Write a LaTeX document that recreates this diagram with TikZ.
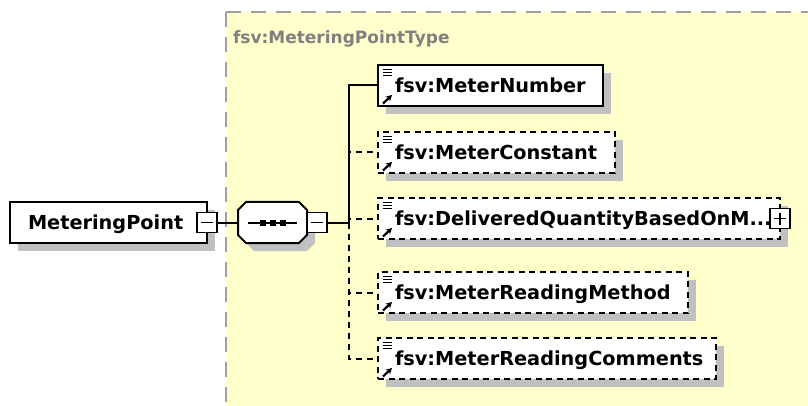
\documentclass[tikz,border=0pt]{standalone}
\usepackage{fontspec}
\setmainfont{DejaVu Sans}
\usetikzlibrary{arrows.meta,shadows,calc}
\definecolor{ybg}{RGB}{255,255,204}
\definecolor{shd}{RGB}{192,192,192}
\definecolor{bord}{RGB}{160,160,160}
\definecolor{ttl}{RGB}{128,128,128}
\newcommand\elicons[1]{%
  \foreach \dy in {4.5,7.5,10.5}{\draw[line width=1.3pt] ($(#1.north west)+(5,\dy)$) -- +(9,0);}
  \draw[line width=2.2pt,-{Stealth[length=6pt,width=6.5pt]}] ($(#1.south west)+(5,-2.5)$) -- ($(#1.south west)+(14,-11)$);
}
\begin{document}
\begin{tikzpicture}[x=1pt,y=-1pt,
  every node/.style={inner sep=0pt,outer sep=0pt},
  shd8/.style={drop shadow={shadow xshift=8pt,shadow yshift=-8pt,fill=shd,opacity=1}},
  box/.style={draw=black,line width=2pt,fill=white,rectangle,anchor=north west,minimum height=41pt,shd8},
  optbox/.style={box,dash pattern=on 6pt off 4.5pt},
  lbl/.style={anchor=base west,font=\fontsize{19.3}{20}\selectfont\bfseries},
  mbox/.style={draw=black,line width=1.7pt,fill=white,rectangle,minimum width=20pt,minimum height=20pt},
  conn/.style={line width=2pt},
  oconn/.style={conn,dash pattern=on 6pt off 5pt}
]
\useasboundingbox (0,0) rectangle (808,406);
\fill[white] (0,0) rectangle (808,406);
% type region
\fill[ybg] (226,12) rectangle (808,406);
\draw[bord,line width=2.2pt,dash pattern=on 15pt off 10pt] (226,12) -- (808,12);
\draw[bord,line width=2.2pt,dash pattern=on 15pt off 10pt] (226,12) -- (226,406);
\node[anchor=base west,text=ttl,font=\fontsize{17}{18}\selectfont\bfseries] (ttl) at (233,44) {fsv:MeteringPointType};

% root element
\node[box,minimum width=197pt] (mp) at (10,202) {};
\node[lbl] (mpt) at ($(mp.west)+(18,7)$) {MeteringPoint};
\node[mbox] (mpm) at (207,222.5) {};
\draw[line width=1.7pt] ($(mpm.west)+(4,0)$) -- ($(mpm.east)+(-4,0)$);

% sequence compositor
\node[minimum width=69pt,minimum height=41pt] (seq) at (272.5,222.5) {};
\draw[line width=2pt,fill=white,shd8] (246,202) -- (299,202) -- (307,210) -- (307,235) -- (299,243) -- (246,243) -- (238,235) -- (238,210) -- cycle;
\draw[line width=2pt] (248,222.5) -- (297,222.5);
\foreach \cx in {262.5,272.5,282.5}{\fill (\cx-3,219.5) rectangle (\cx+3,225.5);}
\node[mbox] (sqm) at (317,222.5) {};
\draw[line width=1.7pt] ($(sqm.west)+(4,0)$) -- ($(sqm.east)+(-4,0)$);
\coordinate (j) at (349,222.5);

% children
\node[box,minimum width=225pt] (c1) at (378,65) {};
\node[optbox,minimum width=237pt] (c2) at (378,132) {};
\node[optbox,minimum width=402pt] (c3) at (378,198) {};
\node[optbox,minimum width=310pt] (c4) at (378,272) {};
\node[optbox,minimum width=338pt] (c5) at (378,338) {};
\node[lbl] (t1) at ($(c1.west)+(17,7)$) {fsv:MeterNumber};
\node[lbl] (t2) at ($(c2.west)+(17,7)$) {fsv:MeterConstant};
\node[lbl] (t3) at ($(c3.west)+(17,7)$) {fsv:DeliveredQuantityBasedOnM...};
\node[lbl] (t4) at ($(c4.west)+(17,7)$) {fsv:MeterReadingMethod};
\node[lbl] (t5) at ($(c5.west)+(17,7)$) {fsv:MeterReadingComments};
\elicons{c1}\elicons{c2}\elicons{c3}\elicons{c4}\elicons{c5}
\node[mbox] (c3p) at (c3.east) {};
\draw[line width=1.7pt] ($(c3p.west)+(4,0)$) -- ($(c3p.east)+(-4,0)$);
\draw[line width=1.7pt] ($(c3p.north)+(0,4)$) -- ($(c3p.south)+(0,-4)$);

% connectors
\draw[conn] (mpm.east) -- (seq.west);
\draw[conn] (sqm.east) -- (j);
\draw[oconn] (j) |- (c2.west);
\draw[oconn] (j) |- (c3.west);
\draw[oconn] (j) |- (c4.west);
\draw[oconn] (j) |- (c5.west);
\draw[conn] (j) |- (c1.west);
\end{tikzpicture}
\end{document}
